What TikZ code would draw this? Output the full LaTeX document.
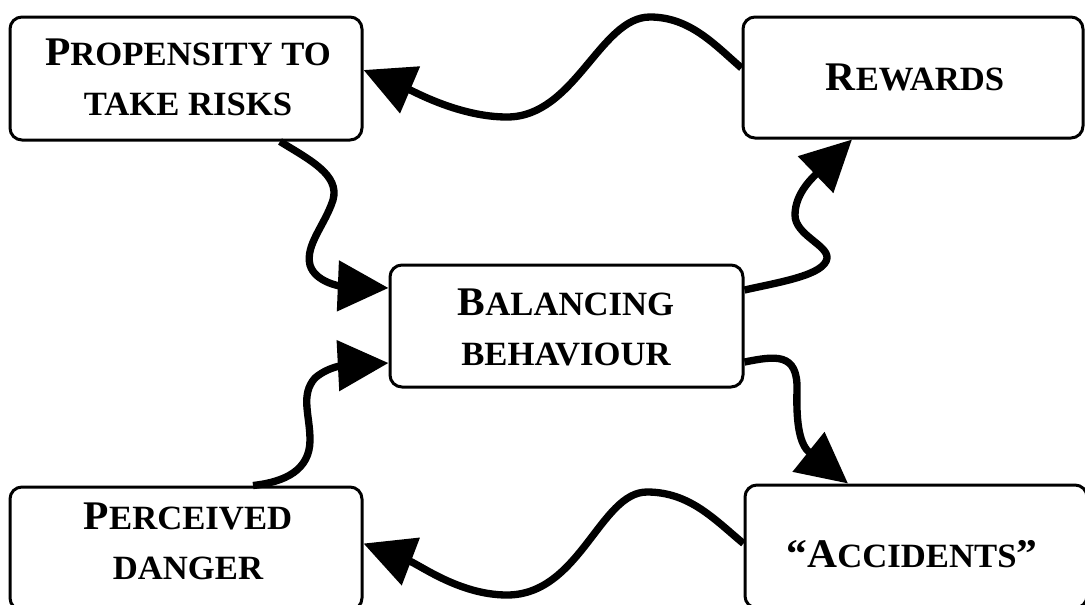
\documentclass[tikz,border=0pt]{standalone}
\usepackage{graphicx}
\usepackage{fontspec}
\setmainfont{Liberation Serif}
\usetikzlibrary{arrows.meta,calc}
\newcommand\capbig[1]{{\fontsize{30.5}{37.5}\selectfont #1}}
\newcommand\wline[1]{\scalebox{1.02}[1]{#1}}
\begin{document}
\begin{tikzpicture}[x=0.75pt,y=-0.75pt,
  box/.style={draw, line width=2.25pt, rounded corners=9pt, inner sep=0pt},
  label/.style={font=\bfseries\fontsize{25.5}{37.5}\selectfont, align=center, inner sep=0pt},
  conn/.style={line width=5.5pt, -{Triangle[length=38pt,width=37pt]}}]
\useasboundingbox (0,0) rectangle (1085,604);
\clip (0,0) rectangle (1085,604);
% boxes
\node[box, minimum width=264pt, minimum height=92.25pt] (prop) at (186,78.5) {};
\node[box, minimum width=255pt, minimum height=90.75pt] (rew) at (913,77.5) {};
\node[box, minimum width=264.75pt, minimum height=91.5pt] (bal) at (566.5,326) {};
\node[box, minimum width=264pt, minimum height=92.25pt] (perc) at (186,548.5) {};
\node[box, minimum width=256.5pt, minimum height=92.25pt] (acc) at (916,546.5) {};
% texts
\node[label] (propt) at (188,77) {\wline{\capbig{P}ROPENSITY TO}\\\wline{TAKE RISKS}};
\node[label] (rewt) at (915,77.5) {\wline{\capbig{R}EWARDS}};
\node[label] (balt) at (566,327) {\wline{\capbig{B}ALANCING}\\\wline{BEHAVIOUR}};
\node[label] (perct) at (188,541) {\wline{\capbig{P}ERCEIVED}\\\wline{DANGER}};
\node[label] (acct) at (912,554) {\wline{\capbig{“A}CCIDENTS\capbig{”}}};
% connectors
\draw[conn] ($(rew.west)+(0,-9.5)$) .. controls (715,45) and (690,17) .. (650,17)
  .. controls (600,17) and (575,117) .. (507,117)
  .. controls (460,117) and (415,92) .. ($(prop.east)+(0,-8.5)$);
\draw[conn] ($(prop.south)+(94,0)$) .. controls (310,160) and (340,175) .. (333,200)
  .. controls (325,225) and (305,245) .. (310,265)
  .. controls (315,282) and (340,286) .. ($(bal.west)+(0,-38)$);
\draw[conn] ($(perc.north)+(67,0)$) .. controls (285,482) and (310,470) .. (310,440)
  .. controls (310,415) and (300,395) .. (315,378)
  .. controls (330,365) and (350,365) .. ($(bal.west)+(0,37)$);
\draw[conn] ($(bal.east)+(0,-36)$) .. controls (780,282) and (825,275) .. (827,258)
  .. controls (828,245) and (795,235) .. (795,215)
  .. controls (795,195) and (810,180) .. ($(rew.south)+(-61,0)$);
\draw[conn] ($(bal.east)+(0,36)$) .. controls (775,356) and (798,352) .. (797,390)
  .. controls (796,425) and (800,445) .. ($(acc.north)+(-68,0)$);
\draw[conn] ($(acc.west)+(0,-3)$) .. controls (715,520) and (690,492) .. (647,492)
  .. controls (600,492) and (580,595) .. (507,595)
  .. controls (460,595) and (420,565) .. ($(perc.east)+(0,-5)$);
\end{tikzpicture}
\end{document}
